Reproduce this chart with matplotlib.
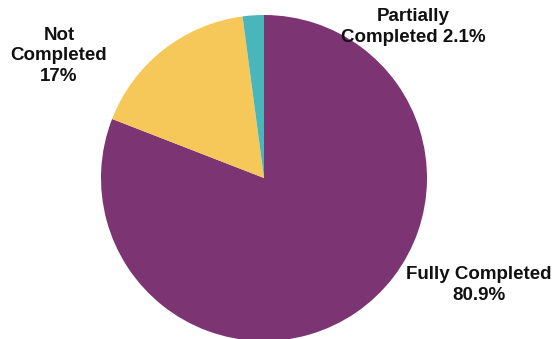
import matplotlib
matplotlib.use("Agg")
import matplotlib.pyplot as plt

categories = ["Fully Completed", "Not Completed", "Partially Completed"]
values = [80.9, 17.0, 2.1]
labels = ["Fully Completed\n80.9%", "Not\nCompleted\n17%", "Partially\nCompleted 2.1%"]
colors = ["#7C3472", "#F6C859", "#48B6BB"]

W, H = 557, 339
fig = plt.figure(figsize=(W / 100, H / 100), dpi=100)
ax = fig.add_axes([0, 0, 1, 1])

cx, cy, r = 264, H - 178, 163
ax.pie(values, colors=colors, startangle=90, counterclock=False,
       radius=r, center=(cx, cy), frame=True,
       wedgeprops=dict(linewidth=0))
ax.set_xlim(0, W)
ax.set_ylim(0, H)
ax.set_aspect("equal")
ax.axis("off")

font = dict(family=["Liberation Sans", "DejaVu Sans"], fontweight="bold",
            fontsize=13.5, color="#111111", ha="center", va="center",
            linespacing=1.3)
ax.text(479, H - 285, labels[0], **font)
ax.text(59, H - 56, labels[1], **font)
ax.text(413, H - 27, labels[2], **font)

fig.savefig("out.png", dpi=100)
